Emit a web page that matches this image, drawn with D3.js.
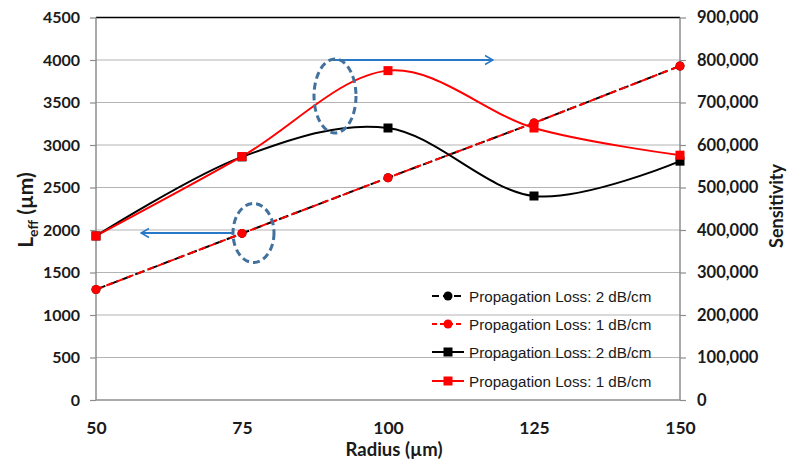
<!DOCTYPE html>
<html><head><meta charset="utf-8">
<script src="https://cdn.jsdelivr.net/npm/d3@7"></script>
<style>body{margin:0;background:#fff}svg{display:block}</style>
</head><body>
<svg id="c" width="787" height="463"></svg>
<script>
const radius = [50, 75, 100, 125, 150];
const leff2 = [1300, 1960, 2615, 3260, 3930];
const leff1 = [1300, 1960, 2615, 3260, 3930];
const sens2 = [386000, 572000, 640000, 480000, 562000];
const sens1 = [386000, 573000, 775000, 640000, 576000];
const leftTicks = [0, 500, 1000, 1500, 2000, 2500, 3000, 3500, 4000, 4500];
const rightTicks = [0, 100000, 200000, 300000, 400000, 500000, 600000, 700000, 800000, 900000];
const xTicks = [50, 75, 100, 125, 150];
const legendLabels = ["Propagation Loss: 2 dB/cm", "Propagation Loss: 1 dB/cm", "Propagation Loss: 2 dB/cm", "Propagation Loss: 1 dB/cm"];

const svg = d3.select("#c");
const L = 96, R = 680, T = 17.5, B = 400;
const x = d3.scaleLinear().domain([50, 150]).range([L, R]);
const yL = d3.scaleLinear().domain([0, 4500]).range([B, T]);
const yR = d3.scaleLinear().domain([0, 900000]).range([B, T]);
const tickFont = "Lato, 'Open Sans', sans-serif";

// gridlines
svg.append("g").selectAll("line").data(leftTicks.slice(1, -1)).join("line")
  .attr("x1", L).attr("x2", R).attr("y1", d => yL(d)).attr("y2", d => yL(d))
  .attr("stroke", "#b3b3b3").attr("stroke-width", 1.2);
// top border
svg.append("line").attr("x1", L).attr("x2", R).attr("y1", T).attr("y2", T).attr("stroke", "#000").attr("stroke-width", 1.5);

// axes
const gl = svg.append("g").attr("transform", `translate(${L},0)`)
  .call(d3.axisLeft(yL).tickValues(leftTicks).tickSize(6).tickPadding(10).tickFormat(d3.format("d")));
const gr = svg.append("g").attr("transform", `translate(${R},0)`)
  .call(d3.axisRight(yR).tickValues(rightTicks).tickSize(6).tickPadding(11).tickFormat(d3.format(",")));
const gb = svg.append("g").attr("transform", `translate(0,${B})`)
  .call(d3.axisBottom(x).tickValues(xTicks).tickSize(0).tickPadding(0).tickFormat(d3.format("d")));
[gl, gr, gb].forEach(g => {
  g.selectAll(".domain").attr("stroke", "#8c8c8c").attr("stroke-width", 1.5);
  g.selectAll(".tick line").attr("stroke", "#8c8c8c").attr("stroke-width", 1.2);
  g.selectAll("text").attr("font-family", tickFont).attr("font-weight", "bold").attr("font-size", 16).attr("fill", "#1a1a1a");
});
gr.selectAll("text").attr("font-size", 16.5);
gb.selectAll("text").attr("font-size", 17.5).attr("dy", null).attr("y", 33.5);
gl.select(".domain").attr("d", `M0,${B}V${T}`);
gr.select(".domain").attr("d", `M0,${B}V${T}`);
gb.select(".domain").attr("d", `M${L},0H${R}`);

// titles
const lt = svg.append("text").attr("transform", "translate(33,210) rotate(-90)").attr("text-anchor", "middle")
  .attr("font-family", tickFont).attr("font-weight", "bold").attr("font-size", 21).attr("fill", "#1a1a1a");
lt.append("tspan").text("L");
lt.append("tspan").attr("font-size", 14).attr("dy", 5).text("eff");
lt.append("tspan").attr("dy", -5).text(" (µm)");
svg.append("text").attr("transform", "translate(783,206) rotate(-90)").attr("text-anchor", "middle")
  .attr("font-family", tickFont).attr("font-weight", "bold").attr("font-size", 18).attr("fill", "#1a1a1a").text("Sensitivity");
svg.append("text").attr("x", 394).attr("y", 456).attr("text-anchor", "middle")
  .attr("font-family", tickFont).attr("font-weight", "bold").attr("font-size", 18.5).attr("fill", "#1a1a1a").text("Radius (µm)");

// series
const series = [
  {vals: leff2, y: yL, color: "#000", dash: "10,4", mark: "circle", curve: d3.curveLinear},
  {vals: leff1, y: yL, color: "#ff0000", dash: "7,4", mark: "circle", curve: d3.curveLinear},
  {vals: sens2, y: yR, color: "#000", dash: null, mark: "square", curve: d3.curveCatmullRom.alpha(0)},
  {vals: sens1, y: yR, color: "#ff0000", dash: null, mark: "square", curve: d3.curveCatmullRom.alpha(0)}
];
series.forEach(s => {
  const pts = radius.map((r, i) => [x(r), s.y(s.vals[i])]);
  svg.append("path").attr("d", d3.line().curve(s.curve)(pts)).attr("fill", "none")
    .attr("stroke", s.color).attr("stroke-width", 2).attr("stroke-dasharray", s.dash);
});
series.forEach(s => {
  radius.forEach((r, i) => {
    const cx = x(r), cy = s.y(s.vals[i]);
    if (s.mark === "circle") svg.append("circle").attr("cx", cx).attr("cy", cy).attr("r", 4.5).attr("fill", s.color);
    else svg.append("rect").attr("x", cx - 4.5).attr("y", cy - 4.5).attr("width", 9).attr("height", 9).attr("fill", s.color);
  });
});

// legend
const lg = svg.append("g");
const ly = [296, 324, 352, 381];
series.forEach((s, i) => {
  const g = lg.append("g").attr("transform", `translate(0,${ly[i]})`);
  g.append("line").attr("x1", 432).attr("x2", 464).attr("y1", 0).attr("y2", 0)
    .attr("stroke", s.color).attr("stroke-width", 2).attr("stroke-dasharray", s.dash ? (i === 0 ? "7,4" : "5,3") : null);
  if (s.mark === "circle") g.append("circle").attr("cx", 448).attr("cy", 0).attr("r", 4.5).attr("fill", s.color);
  else g.append("rect").attr("x", 443.5).attr("y", -4.5).attr("width", 9).attr("height", 9).attr("fill", s.color);
  g.append("text").attr("x", 469).attr("y", 5.5).attr("font-family", "'Liberation Sans', Arial, sans-serif")
    .attr("font-size", 15.2).attr("fill", "#1a1a1a").text(legendLabels[i]);
});

// annotations
const blue = "#2878c8", ell = "#41719c";
svg.append("defs").selectAll("marker").data(["a"]).join("marker").attr("id", "arr")
  .attr("viewBox", "0 0 10 10").attr("refX", 9).attr("refY", 5).attr("markerWidth", 10).attr("markerHeight", 12)
  .attr("markerUnits", "userSpaceOnUse").attr("orient", "auto")
  .append("path").attr("d", "M1,0.5L9,5L1,9.5").attr("fill", "none").attr("stroke", blue).attr("stroke-width", 1.6);
svg.append("line").attr("x1", 333).attr("x2", 493).attr("y1", 60).attr("y2", 60).attr("stroke", blue).attr("stroke-width", 2.2).attr("marker-end", "url(#arr)");
svg.append("line").attr("x1", 233).attr("x2", 141).attr("y1", 233).attr("y2", 233).attr("stroke", blue).attr("stroke-width", 2.2).attr("marker-end", "url(#arr)");
svg.append("ellipse").attr("cx", 335).attr("cy", 96).attr("rx", 21).attr("ry", 37).attr("fill", "none")
  .attr("stroke", ell).attr("stroke-width", 3).attr("stroke-dasharray", "7,4");
svg.append("ellipse").attr("cx", 253.5).attr("cy", 233).attr("rx", 20.5).attr("ry", 29.5).attr("fill", "none")
  .attr("stroke", ell).attr("stroke-width", 3).attr("stroke-dasharray", "7,4");
</script>
</body></html>
